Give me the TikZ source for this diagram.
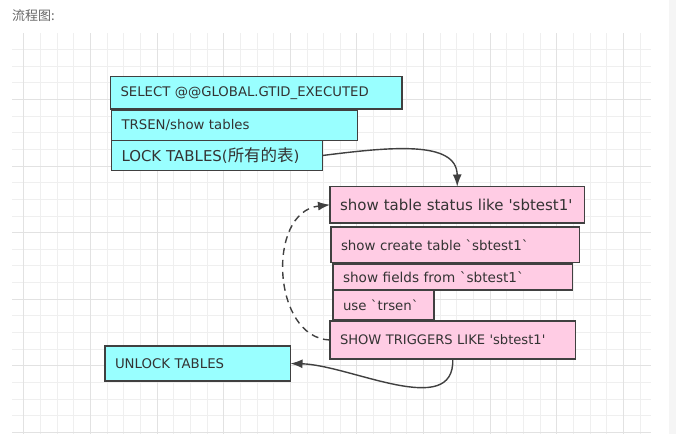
\documentclass[tikz,border=0pt]{standalone}
\usepackage{fontspec}
\usepackage{graphicx}
\setmainfont{DejaVu Sans}
\newfontfamily\dvs{DejaVu Sans}
\newfontfamily\cjk{Noto Sans CJK SC}
\usetikzlibrary{arrows.meta}
\definecolor{cyanfill}{HTML}{99FFFF}
\definecolor{pinkfill}{HTML}{FFCCE4}
\definecolor{edgec}{HTML}{404040}
\definecolor{txtc}{HTML}{333333}
\definecolor{titlec}{HTML}{666666}
\definecolor{gridminor}{HTML}{EFEFEF}
\definecolor{gridmajor}{HTML}{E2E2E2}
\definecolor{stripc}{HTML}{F5F5F5}
\newcommand\fsz[1]{\fontsize{#1}{#1}\selectfont}
\begin{document}
\begin{tikzpicture}[x=1pt,y=-1pt,
  box/.style={draw=edgec, line width=1.6pt, anchor=north west, outer sep=0pt,
              inner xsep=10pt, inner ysep=0pt, align=left, text=txtc},
  cbox/.style={box, fill=cyanfill},
  pbox/.style={box, fill=pinkfill},
  conn/.style={draw=edgec, line width=1.4pt, -{Latex[length=12pt,width=9pt]}},
]
\useasboundingbox (0,0) rectangle (676,434);
\fill[white] (0,0) rectangle (676,434);
\fill[stripc] (669,0) rectangle (676,434);
% grid
\foreach \k in {-8,...,29} \draw[gridminor, line width=0.7pt] ({157+\k*16.65},33) -- ({157+\k*16.65},434);
\foreach \k in {-3,...,20} \draw[gridminor, line width=0.7pt] (12,{99.3+\k*16.65}) -- (651,{99.3+\k*16.65});
\foreach \k in {-8,-4,...,28} \draw[gridmajor, line width=0.8pt] ({157+\k*16.65},33) -- ({157+\k*16.65},434);
\foreach \k in {0,4,...,20} \draw[gridmajor, line width=0.8pt] (12,{99.3+\k*16.65}) -- (651,{99.3+\k*16.65});

\node[anchor=west, text=titlec, font=\cjk\fsz{13}, inner sep=0pt] (title) at (12,16) {流程图:};

% cyan boxes
\node[cbox, text width=271.5pt, minimum height=32.5pt, font=\dvs\fsz{13.25}] (sel) at (110.5,76.5) {\mbox{SELECT @@GLOBAL.GTID\_EXECUTED}};
\node[cbox, text width=226pt, minimum height=30pt, font=\dvs\fsz{13.3}] (trs) at (111.5,110.5) {\mbox{TRSEN/show tables}};
\node[cbox, text width=191pt, minimum height=30pt, font=\dvs\fsz{14.5}] (lock) at (111.5,140.5) {\resizebox{178pt}{!}{LOCK TABLES({\cjk\fsz{16}所有的表})}};

% pink boxes
\node[pbox, text width=234.5pt, minimum height=36.5pt, font=\dvs\fsz{15}] (status) at (330,186.5) {\mbox{show table status like 'sbtest1'}};
\node[pbox, text width=228.5pt, minimum height=35.5pt, font=\dvs\fsz{13.4}] (create) at (331,227) {\mbox{show create table `sbtest1`}};
\node[pbox, text width=219.5pt, minimum height=26pt, font=\dvs\fsz{13.6}] (fields) at (333,264) {\mbox{show fields from `sbtest1`}};
\node[pbox, text width=81pt, minimum height=30pt, font=\dvs\fsz{13.3}] (use) at (333,290) {\mbox{use `trsen`}};
\node[pbox, text width=225.5pt, minimum height=38pt, font=\dvs\fsz{13.1}] (trig) at (330,321) {\mbox{SHOW TRIGGERS LIKE 'sbtest1'}};

\node[cbox, text width=165.5pt, minimum height=35pt, font=\dvs\fsz{13.3}] (unlock) at (105,346) {\mbox{UNLOCK TABLES}};

% connectors
\draw[conn] (lock.east) .. controls (390,147) and (457,140) .. (status.north);
\draw[conn, dash pattern=on 7pt off 5pt] (trig.west) .. controls (272,338) and (266,212) .. (status.west);
\draw[conn] (trig.south) .. controls (455,420) and (350,365) .. (unlock.east);
\end{tikzpicture}
\end{document}
